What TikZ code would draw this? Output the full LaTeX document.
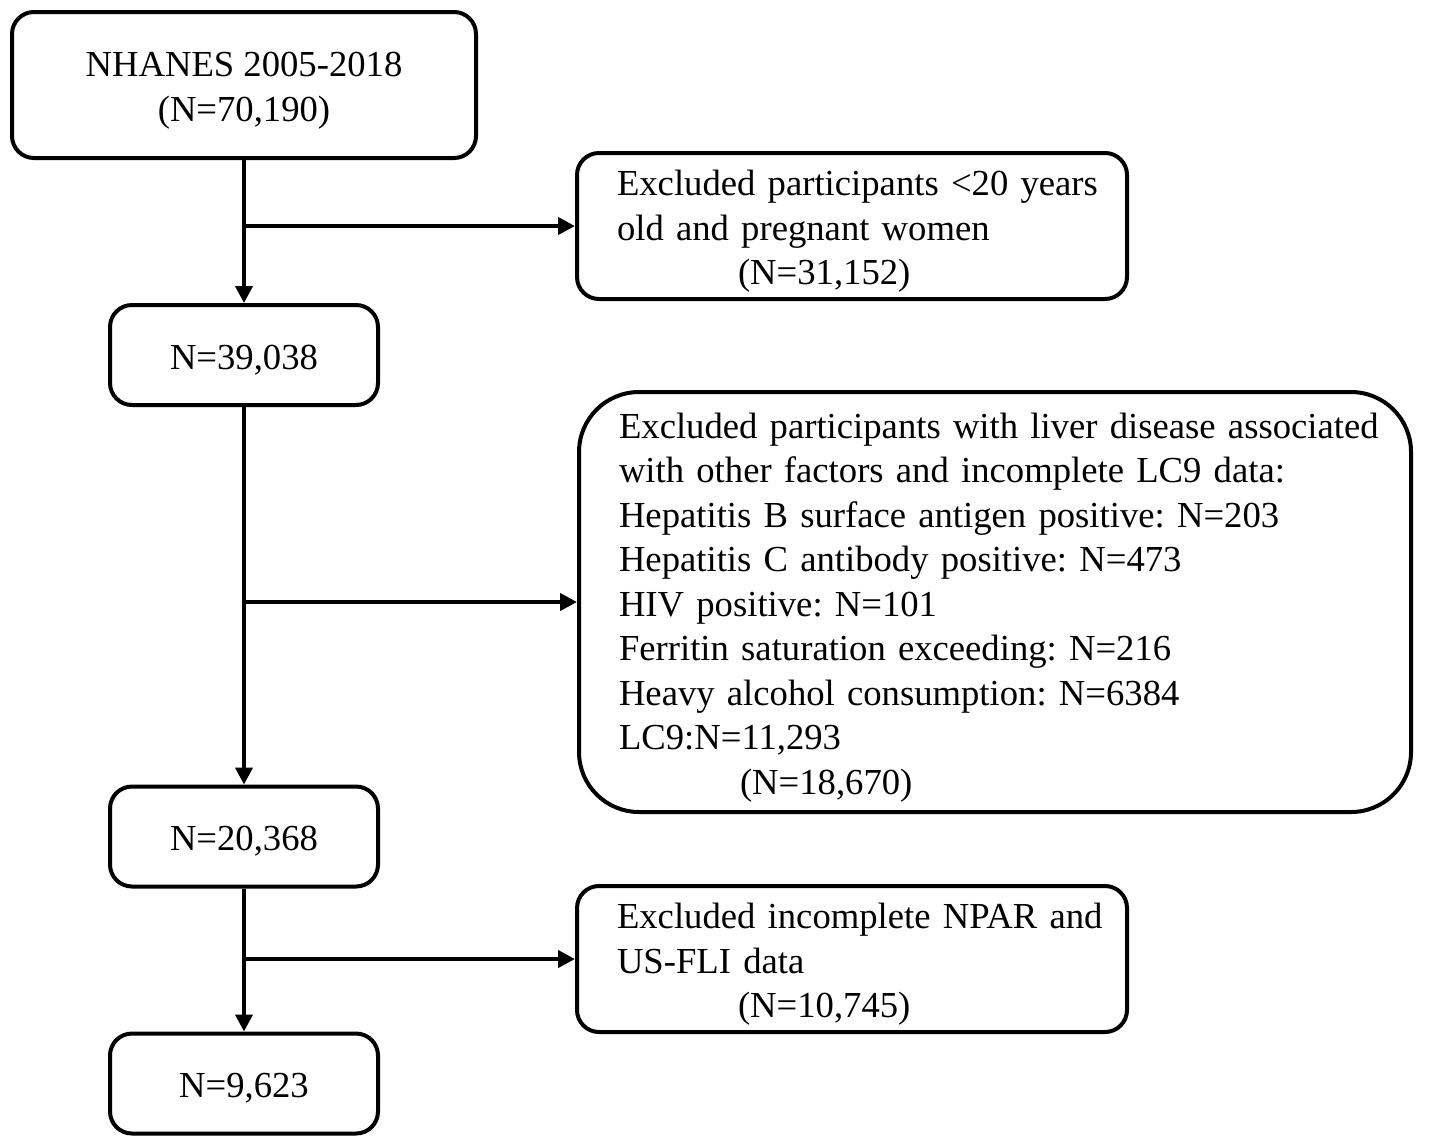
\documentclass[tikz,border=0pt]{standalone}
\usepackage{fontspec}
\setmainfont{Liberation Serif}
\usetikzlibrary{arrows.meta}

% text block of a box, set a little lower than its centre
\newcommand{\flowtext}[2]{\raisebox{-1.6pt}[\height][\depth]{\begin{tabular}{@{}#1@{}}#2\end{tabular}}}
\newcommand{\excltext}[1]{\noindent\hspace*{12pt}\flowtext{l}{#1}}

\begin{document}
\begin{tikzpicture}[
    x=0.3pt, y=-0.3pt,
    every node/.style={font=\fontsize{11}{13.35}\selectfont\frenchspacing},
    box/.style={draw, line width=1.2pt, rounded corners=6.6pt, inner sep=0pt},
    smallbox/.style={box, minimum width=80.4pt, minimum height=30pt},
    exclbox/.style={box, text width=165pt, minimum height=43.8pt},
    arr/.style={line width=1.2pt, -{Triangle[length=5.1pt, width=5.1pt]}}
  ]

\useasboundingbox (0,0) rectangle (1429,1146);

% Start population
\node[box, minimum width=139.2pt, minimum height=43.8pt] (nhanes) at (244,85)
  {\flowtext{c}{NHANES 2005-2018\\(N=70,190)}};

% First exclusion
\node[exclbox] (excl1) at (852,226)
  {\excltext{Excluded participants <20 years\\old and pregnant women\\\hspace*{36.3pt}(N=31,152)}};

\node[smallbox] (n1) at (244,355) {\flowtext{c}{N=39,038}};

% Second exclusion (liver disease, LC9)
\node[exclbox, rounded corners=18pt, text width=249.6pt, minimum height=126pt] (excl2) at (995,602)
  {\excltext{Excluded participants with liver disease associated\\
   with other factors and incomplete LC9 data:\\
   Hepatitis B surface antigen positive: N=203\\
   Hepatitis C antibody positive: N=473\\
   HIV positive: N=101\\
   Ferritin saturation exceeding: N=216\\
   Heavy alcohol consumption: N=6384\\
   LC9:N=11,293\\
   \hspace*{36.3pt}(N=18,670)}};

\node[smallbox] (n2) at (244,836.5) {\flowtext{c}{N=20,368}};

% Third exclusion
\node[exclbox] (excl3) at (852,959)
  {\excltext{Excluded incomplete NPAR and\\US-FLI data\\\hspace*{36.3pt}(N=10,745)}};

\node[smallbox] (n3) at (244,1083.5) {\flowtext{c}{N=9,623}};

% Main flow
\draw[arr] (nhanes.south) -- (n1.north);
\draw[arr] (n1.south) -- (n2.north);
\draw[arr] (n2.south) -- (n3.north);

% Branches to the exclusions
\draw[arr] (nhanes.south |- excl1.west) -- (excl1.west);
\draw[arr] (n1.south |- excl2.west) -- (excl2.west);
\draw[arr] (n2.south |- excl3.west) -- (excl3.west);

\end{tikzpicture}
\end{document}
